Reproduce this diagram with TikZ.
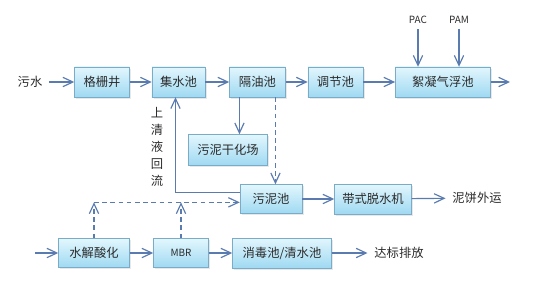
\documentclass[tikz,border=0pt]{standalone}
\usepackage{fontspec}
\newfontfamily\cjk{Noto Sans CJK SC}
\usetikzlibrary{arrows.meta,positioning,shadows}
\definecolor{boxTop}{HTML}{E2F6FD}
\definecolor{boxBottom}{HTML}{9FD9F2}
\definecolor{boxBorder}{HTML}{7AACC8}
\definecolor{flowBlue}{HTML}{5A7BB0}
\definecolor{textGray}{HTML}{2B2B2B}

\begin{document}
\begin{tikzpicture}[
            x=0.03cm, y=-0.03cm,
            unit/.style={
                    rectangle,
                    draw=boxBorder,
                    top color=boxTop,
                    bottom color=boxBottom,
                    minimum width=1.65cm,
                    minimum height=0.9cm,
                    inner sep=1pt,
                    text=textGray,
                    font=\cjk\fontsize{10.5}{12}\selectfont,
                    drop shadow={shadow xshift=0.05cm, shadow yshift=-0.05cm, opacity=0.18}
                },
            textnode/.style={
                    inner sep=0.2cm,
                    text=textGray,
                    font=\cjk\fontsize{10.5}{14.6}\selectfont,
                    align=center
                },
            arrow/.style={
                    -{Straight Barb[length=3mm,width=2.8mm]},
                    draw=flowBlue,
                    line width=1pt
                },
            dasharrow/.style={
                    arrow,
                    dash pattern=on 4pt off 3pt
                }
        ]
        \useasboundingbox (0,0) rectangle (544,282);

        % 主流程
        \node[textnode] (sewage) at (30,82) {污水};
        \node[unit] (grid) at (102,82) {格栅井};
        \node[unit, minimum width=1.59cm, right=0.66cm of grid] (collect) {集水池};
        \node[unit, minimum width=1.68cm, right=0.72cm of collect] (oil) {隔油池};
        \node[unit, right=0.66cm of oil] (adjust) {调节池};
        \node[unit, minimum width=2.85cm, right=0.96cm of adjust] (floc) {絮凝气浮池};
        \coordinate (outlet) at (510,82);

        % 加药
        \node[textnode, inner sep=0.15cm, font=\cjk\fontsize{8.5}{10}\selectfont] (pac) at (418,20) {PAC};
        \node[textnode, inner sep=0.15cm, font=\cjk\fontsize{8.5}{10}\selectfont] (pam) at (459,20) {PAM};

        % 污泥处理
        \node[unit, minimum width=2.37cm, minimum height=0.93cm] (dry) at (228,150) {污泥干化场};
        \node[unit, minimum width=1.86cm, minimum height=0.87cm] (sludge) at (271,199) {污泥池};
        \node[unit, minimum width=2.31cm] (press) at (373,199) {带式脱水机};
        \node[textnode] (cake) at (477,198) {泥饼外运};
        \node[textnode] (reflux) at (157,147) {上\\清\\液\\回\\流};

        % 生化段
        \coordinate (inlet) at (35,253);
        \node[unit, minimum width=2.13cm, minimum height=0.87cm] (hydro) at (94,253) {水解酸化};
        \node[unit, minimum height=0.87cm, font=\cjk\fontsize{8.5}{10}\selectfont] (mbr) at (181,253) {MBR};
        \node[unit, minimum width=2.97cm] (disinfect) at (282,253) {消毒池/清水池};
        \node[textnode] (discharge) at (399,253) {达标排放};

        % 流向
        \draw[arrow] (sewage) -- (grid);
        \draw[arrow] (grid) -- (collect);
        \draw[arrow] (collect) -- (oil);
        \draw[arrow] (oil) -- (adjust);
        \draw[arrow] (adjust) -- (floc);
        \draw[arrow] (floc) -- (outlet);
        \draw[arrow] (pac) -- (pac |- floc.north);
        \draw[arrow] (pam) -- (pam |- floc.north);

        \draw[arrow] ([xshift=-0.54cm]oil.south) -- ([xshift=-0.54cm]oil.south |- dry.north);
        \draw[dasharrow] ([xshift=0.54cm]oil.south) -- ([xshift=0.54cm]oil.south |- sludge.north);
        \draw[arrow] ([yshift=0.2cm]sludge.west) -| ([xshift=-0.09cm]collect.south);
        \draw[arrow] (sludge) -- (press);
        \draw[arrow] (press) -- (cake);

        \draw[arrow] (inlet) -- (hydro);
        \draw[arrow] (hydro) -- (mbr);
        \draw[arrow] (mbr) -- (disinfect);
        \draw[arrow] (disinfect) -- (discharge);

        % 排泥 (虚线)
        \coordinate (join) at ([yshift=-0.1cm]sludge.west);
        \draw[dasharrow] (hydro.north) -- (hydro.north |- join);
        \draw[dasharrow] (mbr.north) -- (mbr.north |- join);
        \draw[dasharrow] (hydro.north |- join) -- (join);

    \end{tikzpicture}
\end{document}
